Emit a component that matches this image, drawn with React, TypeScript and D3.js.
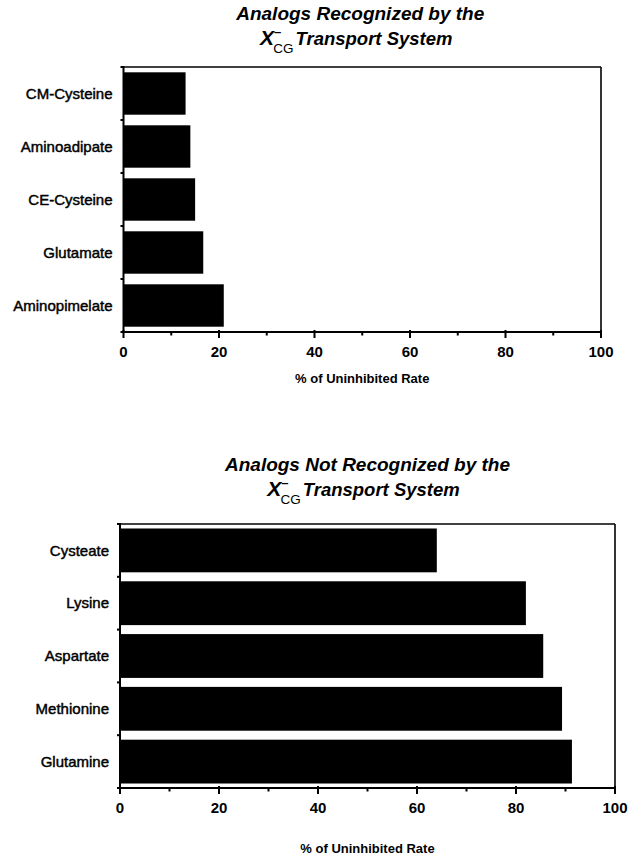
import React from "react";
import * as d3 from "d3";

// Inhibition of uptake by amino acid analogs (% of uninhibited rate)
const recognizedAnalogs = ["CM-Cysteine", "Aminoadipate", "CE-Cysteine", "Glutamate", "Aminopimelate"];
const recognizedRates = [13, 14, 15, 16.7, 21];

const unrecognizedAnalogs = ["Cysteate", "Lysine", "Aspartate", "Methionine", "Glutamine"];
const unrecognizedRates = [64, 82, 85.5, 89.3, 91.3];

const majorTicks = [0, 20, 40, 60, 80, 100];
const minorTicks = [10, 30, 50, 70, 90];
const xDomain = [0, 100];

const axisTitle = "% of Uninhibited Rate";
const titleLeadRecognized = "Analogs Recognized by the";
const titleLeadNotRecognized = "Analogs Not Recognized by the";

const FONT = "'Liberation Sans', Arial, Helvetica, sans-serif";

type Box = { left: number; right: number; top: number; bottom: number };

type PanelProps = {
  categories: string[];
  values: number[];
  box: Box;
  titleLead: string;
  titleY: number;
  titleShift: number;
  padInner: number;
  padOuter: number;
  tickLabelY: number;
  axisTitleY: number;
};

function Panel({
  categories,
  values,
  box,
  titleLead,
  titleY,
  titleShift,
  padInner,
  padOuter,
  tickLabelY,
  axisTitleY,
}: PanelProps) {
  const x = d3.scaleLinear().domain(xDomain).range([box.left, box.right]);
  const y = d3
    .scaleBand<string>()
    .domain(categories)
    .range([box.top, box.bottom])
    .paddingInner(padInner)
    .paddingOuter(padOuter);
  const cx = (box.left + box.right) / 2;

  // tick marks on the category axis sit on the band boundaries
  const boundaries = d3
    .range(categories.length + 1)
    .map((i) => box.top + ((box.bottom - box.top) * i) / categories.length);

  return (
    <g>
      {/* two-line title with the X-CG subscript notation */}
      <text
        x={cx + titleShift}
        y={titleY}
        textAnchor="middle"
        fontFamily={FONT}
        fontWeight="bold"
        fontStyle="italic"
        fontSize={19}
      >
        {titleLead}
      </text>
      <text
        x={cx - 4 + titleShift}
        y={titleY + 25}
        textAnchor="middle"
        fontFamily={FONT}
        fontWeight="bold"
        fontStyle="italic"
        fontSize={18.5}
      >
        <tspan fontSize={21}>X</tspan>
        <tspan fontSize={13} fontStyle="normal" fontWeight="bold" dy={-9}>
          {"\u2013"}
        </tspan>
        <tspan fontSize={13.5} fontStyle="normal" fontWeight="normal" dx={-8} dy={17}>
          CG
        </tspan>
        <tspan dx={2} dy={-8}>
          {"Transport System"}
        </tspan>
      </text>

      {/* bars */}
      {categories.map((c, i) => (
        <rect
          key={c}
          x={x(0)}
          y={y(c)}
          width={x(values[i]) - x(0)}
          height={y.bandwidth()}
          fill="#000"
        />
      ))}

      {/* frame */}
      <line x1={box.left} x2={box.right} y1={box.top} y2={box.top} stroke="#000" strokeWidth={1.6} />
      <line x1={box.right} x2={box.right} y1={box.top} y2={box.bottom} stroke="#000" strokeWidth={1.6} />
      <line x1={box.left} x2={box.left} y1={box.top - 1} y2={box.bottom + 1} stroke="#000" strokeWidth={2} />
      <line x1={box.left - 1} x2={box.right + 1} y1={box.bottom} y2={box.bottom} stroke="#000" strokeWidth={2} />

      {/* category axis ticks and labels */}
      {boundaries.map((b, i) => (
        <line key={"yt" + i} x1={box.left - 3} x2={box.left} y1={b} y2={b} stroke="#000" strokeWidth={2} />
      ))}
      {categories.map((c) => (
        <text
          key={"yl" + c}
          x={box.left - 11}
          y={(y(c) as number) + y.bandwidth() / 2}
          dy="0.35em"
          textAnchor="end"
          fontFamily={FONT}
          fontSize={15}
          stroke="#000"
          strokeWidth={0.45}
        >
          {c}
        </text>
      ))}

      {/* value axis */}
      {majorTicks.map((t) => (
        <g key={"xt" + t}>
          <line x1={x(t)} x2={x(t)} y1={box.bottom - 2} y2={box.bottom + 6} stroke="#000" strokeWidth={2} />
          <text
            x={x(t)}
            y={tickLabelY}
            textAnchor="middle"
            fontFamily={FONT}
            fontWeight="bold"
            fontSize={15}
          >
            {t}
          </text>
        </g>
      ))}
      {minorTicks.map((t) => (
        <line key={"xm" + t} x1={x(t)} x2={x(t)} y1={box.bottom} y2={box.bottom + 3.5} stroke="#000" strokeWidth={2} />
      ))}
      <text x={cx} y={axisTitleY} textAnchor="middle" fontFamily={FONT} fontWeight="bold" fontSize={13}>
        {axisTitle}
      </text>
    </g>
  );
}

export default function App() {
  return (
    <svg
      width={642}
      height={857}
      viewBox="0 0 642 857"
      style={{ position: "absolute", left: 0, top: 0, background: "#fff" }}
    >
      <rect width={642} height={857} fill="#fff" />
      <Panel
        categories={recognizedAnalogs}
        values={recognizedRates}
        box={{ left: 123.5, right: 601, top: 67, bottom: 332 }}
        titleLead={titleLeadRecognized}
        titleY={20}
        titleShift={-2}
        padInner={0.2}
        padOuter={0.1}
        tickLabelY={356.5}
        axisTitleY={383}
      />
      <Panel
        categories={unrecognizedAnalogs}
        values={unrecognizedRates}
        box={{ left: 120, right: 615, top: 524, bottom: 788 }}
        titleLead={titleLeadNotRecognized}
        titleY={471}
        titleShift={0}
        padInner={0.17}
        padOuter={0.085}
        tickLabelY={813}
        axisTitleY={853}
      />
    </svg>
  );
}
